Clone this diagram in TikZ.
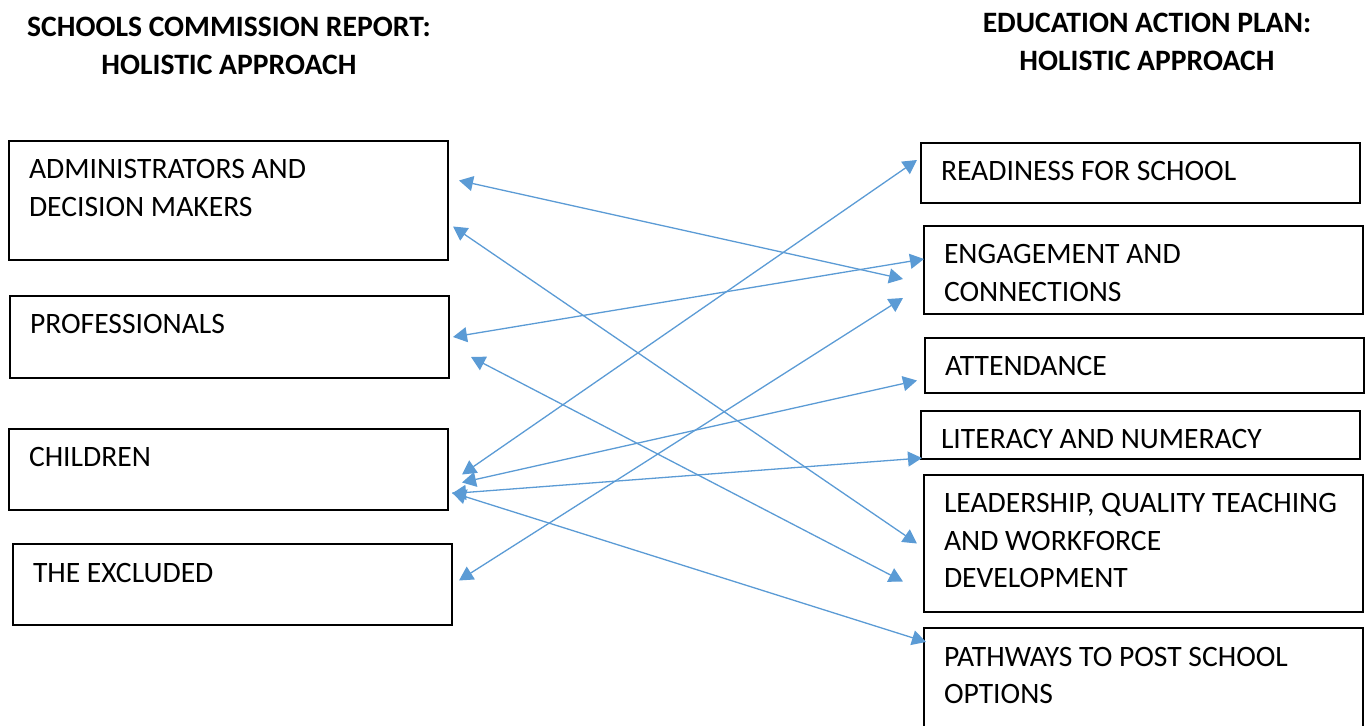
\documentclass[tikz,border=0pt]{standalone}
\usepackage{fontspec}
\setmainfont{Carlito}
\usepackage{xcolor}
\usetikzlibrary{arrows.meta}
\definecolor{linkblue}{HTML}{5B9BD5}
\newcommand{\boxtext}[1]{\parbox[t]{199.5pt}{\raggedright #1}}
\tikzset{
	goal/.style={
			draw, line width=1pt, anchor=north west, inner xsep=10pt, inner ysep=0pt,
			text height=19pt, text depth=#1, font=\fontsize{14.8}{18.75}\selectfont
		},
	heading/.style={
			anchor=north, inner sep=0pt, align=center,
			font=\fontsize{14.8}{18.75}\selectfont\bfseries
		},
	link/.style={
			arrows={Triangle[length=7pt,width=7.5pt]-Triangle[length=7pt,width=7.5pt]},
			draw=linkblue, line width=0.65pt
		}
}

\begin{document}
\begin{tikzpicture}[x=0.5pt,y=-0.5pt]
        \useasboundingbox (0,0) rectangle (1370,726);
        \node[heading] (report_T) at (229, 17) {SCHOOLS COMMISSION REPORT:\\HOLISTIC APPROACH};
        \node[heading] (plan_T) at (1147, 13) {EDUCATION ACTION PLAN:\\HOLISTIC APPROACH};
        \node[goal=40.5pt] (admin) at (8, 140) {\boxtext{ADMINISTRATORS AND\\DECISION MAKERS}};
        \node[goal=22pt] (prof) at (9, 295) {\boxtext{PROFESSIONALS}};
        \node[goal=21.5pt] (children) at (8, 428) {\boxtext{CHILDREN}};
        \node[goal=21.5pt] (excluded) at (12, 543) {\boxtext{THE EXCLUDED}};
        \node[goal=11pt] (ready) at (920, 142) {\boxtext{READINESS FOR SCHOOL}};
        \node[goal=25pt] (engage) at (923, 225) {\boxtext{ENGAGEMENT AND\\CONNECTIONS}};
        \node[goal=8.5pt] (attend) at (924, 337) {\boxtext{ATTENDANCE}};
        \node[goal=5pt] (literacy) at (920, 410) {\boxtext{LITERACY AND NUMERACY}};
        \node[goal=49.5pt] (leader) at (923, 474) {\boxtext{LEADERSHIP, QUALITY TEACHING\\AND WORKFORCE\\DEVELOPMENT}};
        \node[goal=36pt] (pathways) at (923, 627) {\boxtext{PATHWAYS TO POST SCHOOL\\OPTIONS}};
        \draw[link] ([shift={(10,-20)}]admin.east) -- ([shift={(-20,9)}]engage.west);
        \draw[link] ([shift={(4,26)}]admin.east) -- ([shift={(-6,0)}]leader.west);
        \draw[link] ([shift={(3,0)}]prof.east) -- ([shift={(1,-11)}]engage.west);
        \draw[link] ([shift={(21,20)}]prof.east) -- ([shift={(-20,38)}]leader.west);
        \draw[link] ([shift={(13,5)}]children.east) -- ([shift={(-3,-13)}]ready.west);
        \draw[link] ([shift={(13,13)}]children.east) -- ([shift={(-7,15)}]attend.west);
        \draw[link] ([shift={(3,24)}]children.east) -- ([shift={(2,23)}]literacy.west);
        \draw[link] ([shift={(3,23)}]children.east) -- ([shift={(3,15)}]pathways.north west);
        \draw[link] ([shift={(6,-4)}]excluded.east) -- ([shift={(-20,28)}]engage.west);
\end{tikzpicture}
\end{document}
